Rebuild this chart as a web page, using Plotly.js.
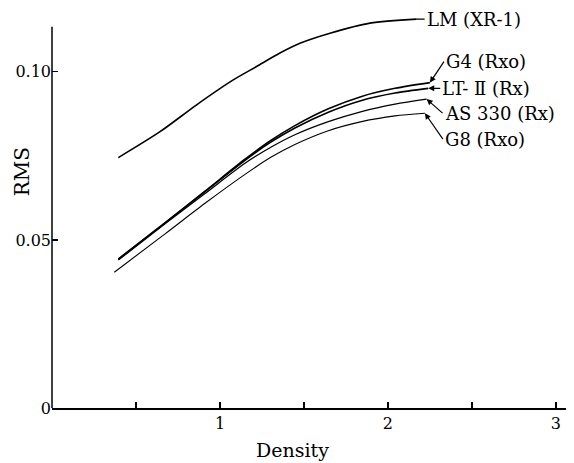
<!DOCTYPE html>
<html>
<head>
<meta charset="utf-8">
<script src="https://cdn.plot.ly/plotly-3.0.1.min.js"></script>
<style>html,body{margin:0;padding:0;background:#fff;}#chart{width:574px;height:463px;}</style>
</head>
<body>
<div id="chart"></div>
<script>
// Data (Density vs RMS)
const lmX   = [0.395, 0.643, 0.861, 1.079, 1.218, 1.357, 1.476, 1.655, 1.893, 2.171];
const lmY   = [0.0745, 0.0822, 0.0902, 0.0976, 0.1016, 0.1056, 0.1085, 0.1115, 0.1145, 0.1157];

const g4X   = [0.395, 0.673, 0.911, 1.149, 1.30, 1.446, 1.645, 1.843, 2.042, 2.25];
const g4Y   = [0.0443, 0.0551, 0.0645, 0.0740, 0.0795, 0.0840, 0.0890, 0.0927, 0.0951, 0.0968];

const ltX   = [0.395, 0.673, 0.911, 1.149, 1.30, 1.446, 1.645, 1.843, 2.042, 2.24];
const ltY   = [0.0443, 0.0551, 0.0644, 0.0737, 0.0790, 0.0833, 0.0880, 0.0915, 0.0937, 0.0951];

const asX   = [0.395, 0.673, 0.911, 1.149, 1.30, 1.446, 1.645, 1.843, 2.042, 2.23];
const asY   = [0.0440, 0.0548, 0.0638, 0.0728, 0.0775, 0.0813, 0.0852, 0.0882, 0.0904, 0.0919];

const g8X   = [0.371, 0.673, 0.911, 1.149, 1.30, 1.446, 1.645, 1.843, 2.042, 2.22];
const g8Y   = [0.0404, 0.0518, 0.0609, 0.0695, 0.0745, 0.0784, 0.0825, 0.0852, 0.0869, 0.0877];

const seriesNames = ['LM (XR-1)', 'G4 (Rxo)', 'LT- Ⅱ (Rx)', 'AS 330 (Rx)', 'G8 (Rxo)'];

const xTickVals = [0.5, 1, 1.5, 2, 2.5, 3];
const xTickText = ['', '1', '', '2', '', '3'];
const yTickVals = [0, 0.05, 0.10];
const yTickText = ['0', '0.05', '0.10'];
const yAxisTop = 0.1134;

const FONT = 'DejaVu Serif, Liberation Serif, serif';

function tr(x, y, w, name) {
  return {x: x, y: y, name: name, type: 'scatter', mode: 'lines',
          line: {color: '#000', width: w, shape: 'spline', smoothing: 0.8},
          showlegend: false, hoverinfo: 'skip'};
}

const data = [
  tr(lmX, lmY, 1.6, seriesNames[0]),
  tr(g4X, g4Y, 1.6, seriesNames[1]),
  tr(ltX, ltY, 1.6, seriesNames[2]),
  tr(asX, asY, 1.3, seriesNames[3]),
  tr(g8X, g8Y, 1.1, seriesNames[4])
];

function lab(x, y, text, ax, ay, head) {
  return {x: x, y: y, xref: 'x', yref: 'y', text: text, showarrow: true,
          arrowhead: head, arrowsize: 1, arrowwidth: 1.2, arrowcolor: '#000',
          ax: ax, ay: ay, xanchor: 'left', yanchor: 'middle',
          font: {family: FONT, size: 18, color: '#000'}, standoff: 0, startstandoff: 0};
}

const last = a => a[a.length - 1];

const annotations = [
  lab(last(lmX), last(lmY), seriesNames[0], 8, 0, 0),
  lab(last(g4X), last(g4Y), seriesNames[1], 14, -21, 2),
  lab(last(ltX), last(ltY), seriesNames[2], 12, 0, 2),
  lab(last(asX), last(asY), seriesNames[3], 16, 14, 2),
  lab(last(g8X), last(g8Y), seriesNames[4], 18, 26, 2),
  {xref: 'paper', yref: 'paper', x: -0.058, y: 0.59, text: 'RMS', textangle: -90,
   showarrow: false, xanchor: 'center', yanchor: 'middle',
   font: {family: FONT, size: 20, color: '#000'}},
  {xref: 'paper', yref: 'paper', x: 0.467, y: -0.105, text: 'Density',
   showarrow: false, xanchor: 'center', yanchor: 'middle',
   font: {family: FONT, size: 19, color: '#000'}}
];

const layout = {
  width: 574, height: 463,
  margin: {l: 52, r: 8, t: 8, b: 55},
  paper_bgcolor: '#fff', plot_bgcolor: '#fff',
  font: {family: FONT, size: 16, color: '#000'},
  xaxis: {range: [0, 3.06], showgrid: false, zeroline: false, showline: true,
          linecolor: '#000', linewidth: 1.5, ticks: 'inside', ticklen: 6,
          tickwidth: 1.2, tickcolor: '#000', tickvals: xTickVals, ticktext: xTickText,
          tickfont: {family: FONT, size: 16}, fixedrange: true},
  yaxis: {range: [0, 0.119], showgrid: false, zeroline: false, showline: false,
          ticks: 'inside', ticklen: 6,
          tickwidth: 1.2, tickcolor: '#000', tickvals: yTickVals, ticktext: yTickText,
          tickfont: {family: FONT, size: 16}, fixedrange: true},
  shapes: [{type: 'line', xref: 'paper', yref: 'y', x0: 0, x1: 0, y0: 0, y1: yAxisTop,
            line: {color: '#000', width: 1.5}}],
  annotations: annotations
};

Plotly.newPlot('chart', data, layout, {staticPlot: true, displayModeBar: false});
</script>
</body>
</html>
